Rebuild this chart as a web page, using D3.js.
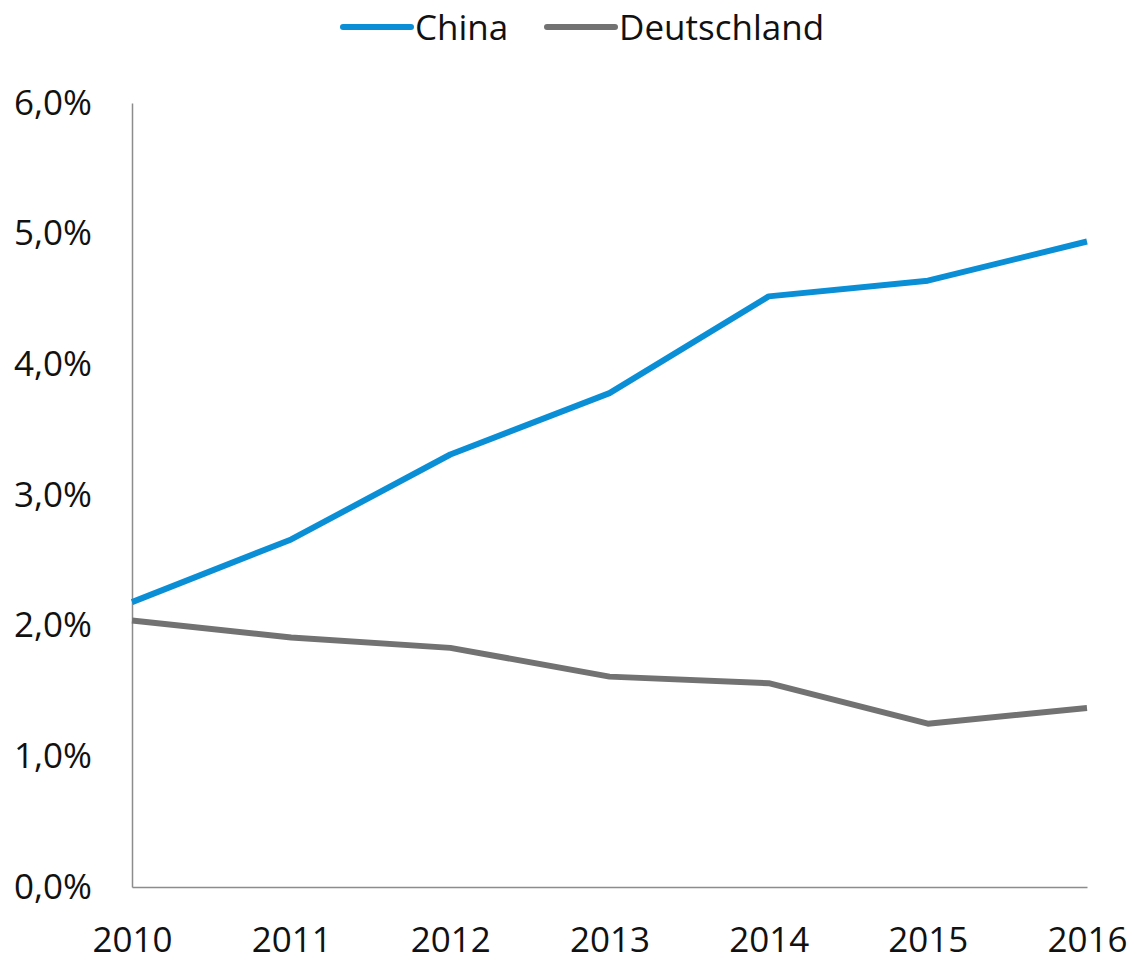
<!DOCTYPE html>
<html>
<head>
<meta charset="utf-8">
<script src="https://cdn.jsdelivr.net/npm/d3@7"></script>
<style>
  body { margin: 0; background: #fff; }
  text { font-family: "Open Sans", "Noto Sans", sans-serif; fill: #111; }
</style>
</head>
<body>
<svg width="1134" height="958"></svg>
<script>
// Data (percent)
var years = [2010, 2011, 2012, 2013, 2014, 2015, 2016];
var china = [2.18, 2.66, 3.31, 3.78, 4.52, 4.64, 4.94];
var deutschland = [2.04, 1.91, 1.83, 1.61, 1.56, 1.25, 1.37];
var yTicks = [0, 1, 2, 3, 4, 5, 6];
var seriesNames = ["China", "Deutschland"];
var seriesColors = ["#0a8fd6", "#727272"];

var svg = d3.select("svg"),
  width = +svg.attr("width"),
  height = +svg.attr("height");

var margin = {left: 132, right: 47, top: 103, bottom: 71};

var x = d3.scalePoint()
  .domain(years)
  .range([margin.left, width - margin.right]);

var y = d3.scaleLinear()
  .domain([0, 6])
  .range([height - margin.bottom, margin.top]);

// y axis: line only, labels to the left
var yAxis = svg.append("g")
  .attr("transform", "translate(" + margin.left + ",0)")
  .call(d3.axisLeft(y).tickValues(yTicks).tickSize(0).tickPadding(40)
    .tickFormat(function(d) { return d3.format(".1f")(d).replace(".", ",") + "%"; }));
yAxis.select(".domain").attr("stroke", "#8c8c8c").attr("stroke-width", 1.5);
yAxis.selectAll("text").style("font-size", "35px").attr("fill", "#111");

// x axis
var xAxis = svg.append("g")
  .attr("transform", "translate(0," + y(0) + ")")
  .call(d3.axisBottom(x).tickSize(0).tickPadding(40));
xAxis.select(".domain").attr("stroke", "#8c8c8c").attr("stroke-width", 1.5);
xAxis.selectAll("text").style("font-size", "35px").attr("fill", "#111");

// lines
var line = d3.line()
  .x(function(d, i) { return x(years[i]); })
  .y(function(d) { return y(d); });

[china, deutschland].forEach(function(s, i) {
  svg.append("path")
    .datum(s)
    .attr("fill", "none")
    .attr("stroke", seriesColors[i])
    .attr("stroke-width", 6)
    .attr("stroke-linejoin", "round")
    .attr("d", line);
});

// legend
var legendX = [343, 547];
var gLegend = svg.append("g").attr("class", "legend");
seriesNames.forEach(function(name, i) {
  gLegend.append("line")
    .attr("x1", legendX[i]).attr("x2", legendX[i] + 68)
    .attr("y1", 27).attr("y2", 27)
    .attr("stroke", seriesColors[i])
    .attr("stroke-width", 6)
    .attr("stroke-linecap", "round");
  gLegend.append("text")
    .attr("x", legendX[i] + 72)
    .attr("y", 27)
    .attr("dy", "0.36em")
    .style("font-size", "35px")
    .text(name);
});
</script>
</body>
</html>
